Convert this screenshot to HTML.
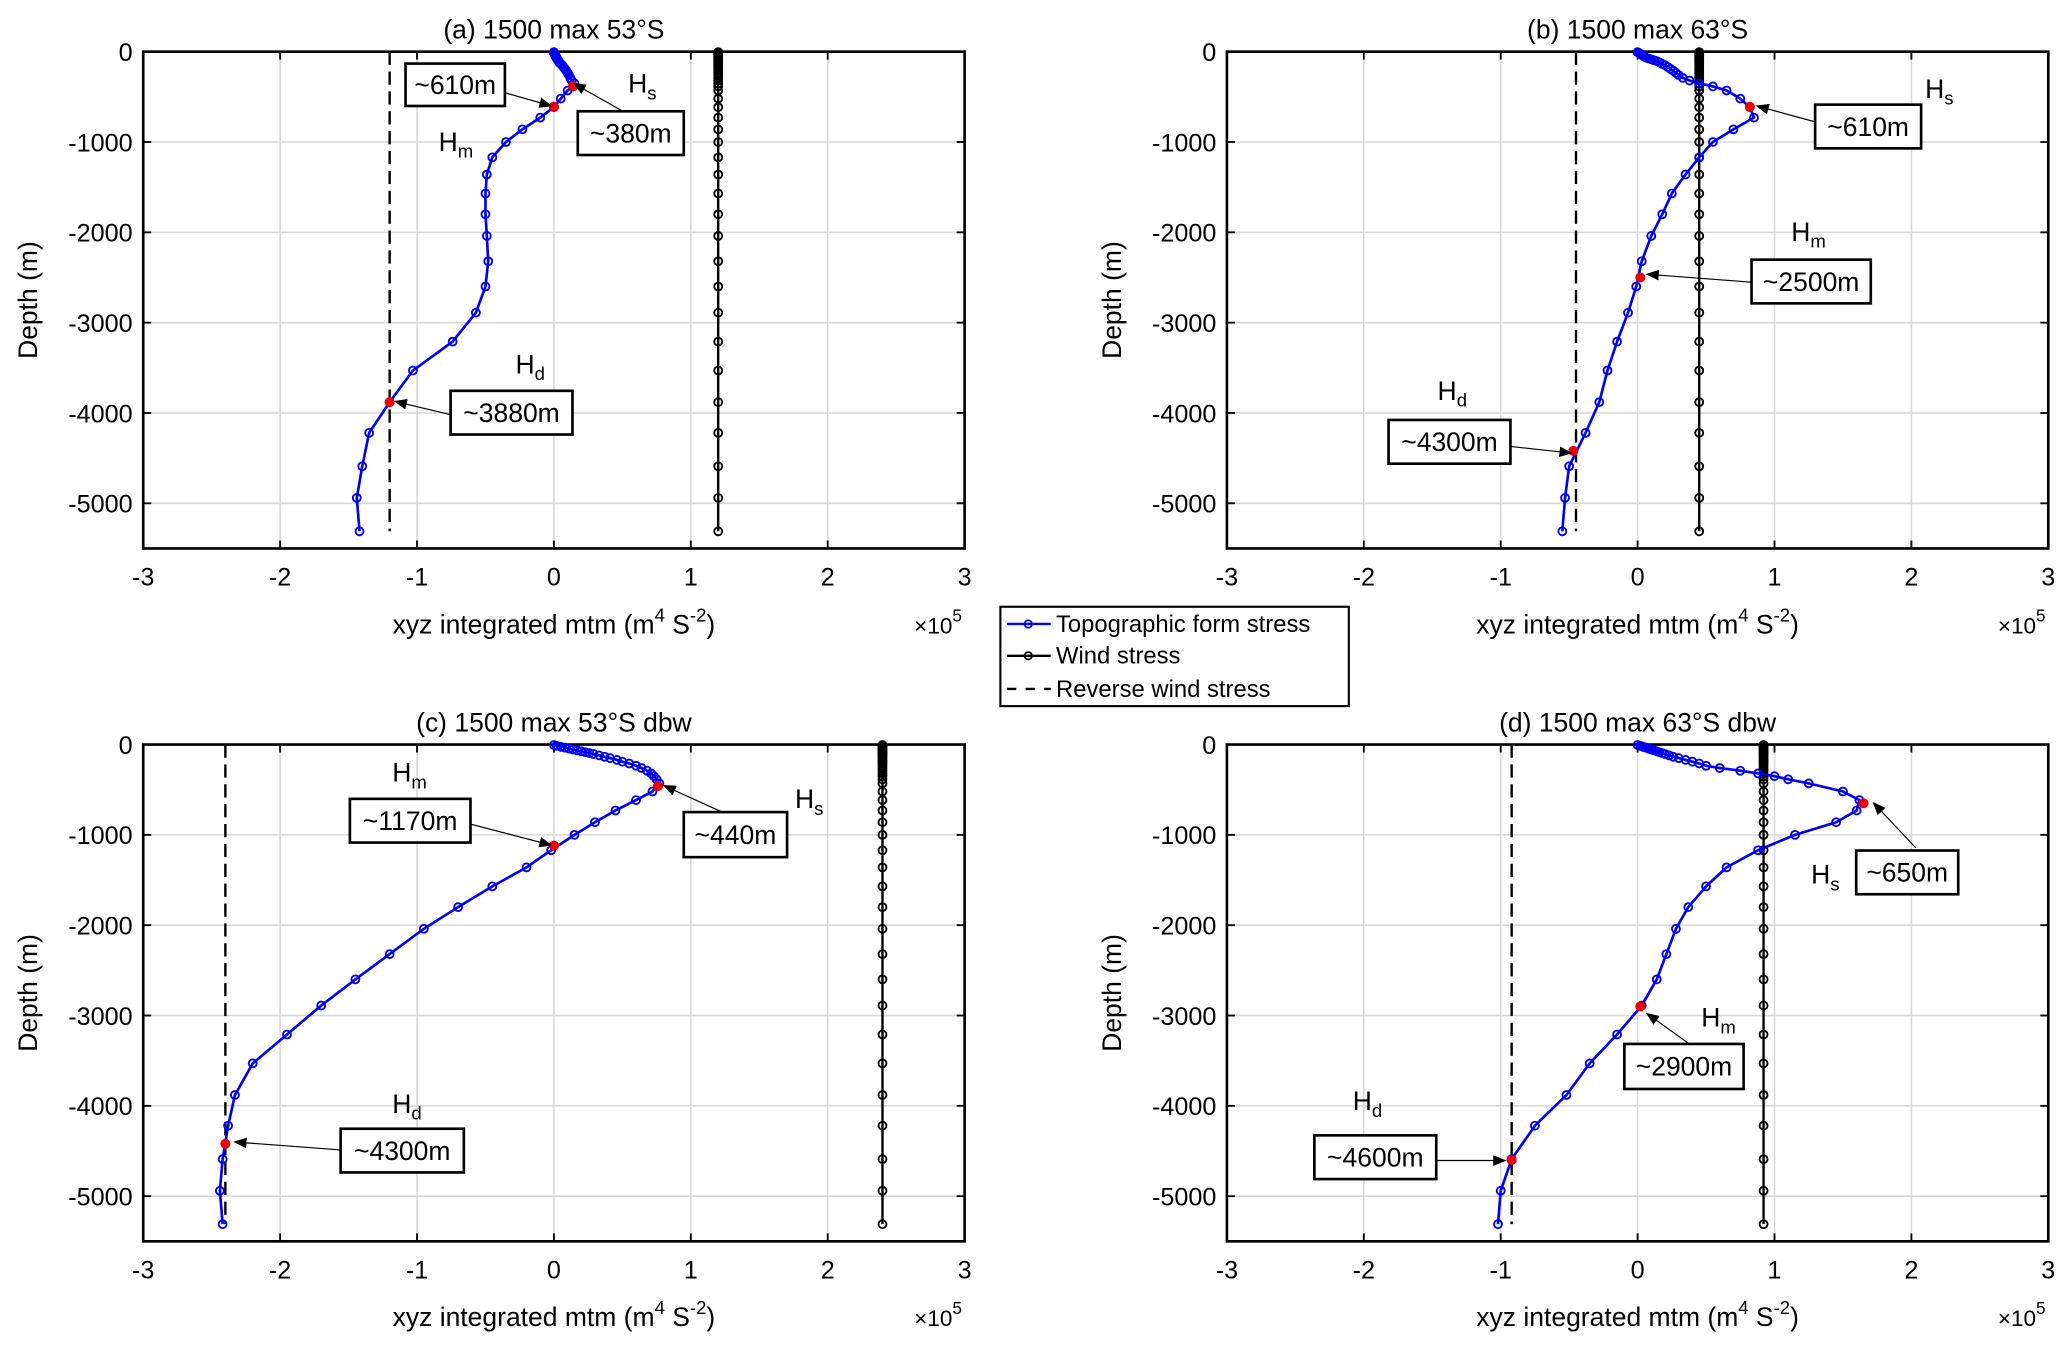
<!DOCTYPE html>
<html><head><meta charset="utf-8"><style>
html,body{margin:0;padding:0;background:#fff;}
svg{display:block;font-family:"Liberation Sans",Arial,sans-serif;}
</style></head><body>
<svg id="fig" width="2067" height="1346" viewBox="0 0 1560 1016" xmlns="http://www.w3.org/2000/svg"></svg>
<script>
// Shared depth levels (m, positive down)
const depths = [5,15,25,35,45,55,65,75,85,95,105,120,135,150,170,190,210,235,260,290,320,350,385,430,520,615,730,860,1000,1170,1360,1570,1800,2040,2320,2600,2890,3210,3530,3880,4220,4590,4940,5310];
const xTicks = [-3,-2,-1,0,1,2,3];
const yTicks = [0,-1000,-2000,-3000,-4000,-5000];
const titles = ["(a) 1500 max 53°S","(b) 1500 max 63°S","(c) 1500 max 53°S dbw","(d) 1500 max 63°S dbw"];
const formA = [0,0,0.005,0.01,0.01,0.015,0.02,0.02,0.025,0.03,0.035,0.04,0.05,0.06,0.07,0.08,0.09,0.1,0.11,0.12,0.13,0.15,0.14,0.1,0.05,0,-0.1,-0.23,-0.35,-0.45,-0.49,-0.5,-0.5,-0.49,-0.48,-0.5,-0.57,-0.74,-1.03,-1.2,-1.35,-1.4,-1.44,-1.42];
const formB = [0,0.01,0.02,0.03,0.04,0.05,0.06,0.08,0.1,0.12,0.14,0.16,0.18,0.2,0.22,0.24,0.26,0.28,0.3,0.33,0.38,0.45,0.55,0.65,0.75,0.82,0.85,0.7,0.55,0.45,0.35,0.25,0.18,0.1,0.03,-0.01,-0.07,-0.15,-0.22,-0.28,-0.38,-0.5,-0.53,-0.55];
const formC = [0,0.02,0.05,0.08,0.11,0.14,0.17,0.2,0.23,0.26,0.29,0.33,0.37,0.41,0.46,0.5,0.55,0.6,0.64,0.68,0.71,0.73,0.75,0.77,0.72,0.6,0.45,0.3,0.15,-0.02,-0.2,-0.45,-0.7,-0.95,-1.2,-1.45,-1.7,-1.95,-2.2,-2.33,-2.38,-2.42,-2.44,-2.42];
const formD = [0,0.02,0.04,0.06,0.08,0.1,0.12,0.14,0.16,0.18,0.2,0.23,0.26,0.3,0.35,0.4,0.45,0.5,0.6,0.75,0.88,1.0,1.1,1.25,1.5,1.62,1.6,1.45,1.15,0.88,0.65,0.5,0.37,0.28,0.21,0.14,0.03,-0.15,-0.35,-0.52,-0.75,-0.92,-1.0,-1.02];
const windVals = [1.2,0.45,2.4,0.92];
const reverseVals = [-1.2,-0.45,-2.4,-0.92];
const redX = [[0.14,0,-1.2],[0.82,0.02,-0.47],[0.76,0,-2.4],[1.65,0.02,-0.92]];
const redD = [[380,610,3880],[610,2500,4420],[460,1120,4420],[650,2900,4600]];
const forms = [formA,formB,formC,formD];

const NS="http://www.w3.org/2000/svg";
const svg=document.getElementById('fig');
function mk(tag,attrs,parent){const e=document.createElementNS(NS,tag);for(const k in attrs)e.setAttribute(k,attrs[k]);(parent||svg).appendChild(e);return e;}
const panels=[{l:108,t:39},{l:926,t:39},{l:108,t:562},{l:926,t:562}];
const PW=620,PH=375;

panels.forEach((p,i)=>{
  const g=mk('g',{});
  
  
  const sx=v=>p.l+(v+3)/6*PW;
  const sy=d=>p.t+d/5500*PH;
  xTicks.forEach(v=>{const ln=mk('line',{x1:sx(v),x2:sx(v),y1:p.t,y2:p.t+PH,stroke:'#d8d8d8','stroke-width':1.2},g);
    
    const tx=mk('text',{x:sx(v),y:p.t+PH+28,'text-anchor':'middle','font-size':19},g);tx.textContent=v;
    
    mk('line',{x1:sx(v),x2:sx(v),y1:p.t+PH,y2:p.t+PH-6,stroke:'#000','stroke-width':1.4},g);mk('line',{x1:sx(v),x2:sx(v),y1:p.t,y2:p.t+6,stroke:'#000','stroke-width':1.4},g);});
  yTicks.forEach(v=>{const y=sy(-v);const ln=mk('line',{x1:p.l,x2:p.l+PW,y1:y,y2:y,stroke:'#d8d8d8','stroke-width':1.2},g);
    
    const tx=mk('text',{x:p.l-8,y:y+7,'text-anchor':'end','font-size':19},g);tx.textContent=v;
    
    mk('line',{x1:p.l,x2:p.l+6,y1:y,y2:y,stroke:'#000','stroke-width':1.4},g);mk('line',{x1:p.l+PW,x2:p.l+PW-6,y1:y,y2:y,stroke:'#000','stroke-width':1.4},g);});
  const fr=mk('rect',{x:p.l,y:p.t,width:PW,height:PH,fill:'none',stroke:'#000','stroke-width':2},g);
  
  const ti=mk('text',{x:p.l+PW/2,y:p.t-10,'text-anchor':'middle','font-size':20},g);ti.textContent=titles[i];
  
  const xl=mk('text',{x:p.l+PW/2,y:p.t+PH+64,'text-anchor':'middle','font-size':20},g);
  xl.innerHTML='xyz integrated mtm (m<tspan dy="-9" font-size="14">4</tspan><tspan dy="9"> S</tspan><tspan dy="-9" font-size="14">-2</tspan><tspan dy="9">)</tspan>';
  
  const ex=mk('text',{x:p.l+PW-2,y:p.t+PH+64,'text-anchor':'end','font-size':17},g);
  ex.innerHTML='×10<tspan dy="-9" font-size="13">5</tspan>';
  
  const yl=mk('text',{x:0,y:0,'text-anchor':'middle','font-size':20,transform:`translate(${p.l-80},${p.t+PH/2}) rotate(-90)`},g);yl.textContent='Depth (m)';
  
  const rv=mk('line',{x1:sx(reverseVals[i]),x2:sx(reverseVals[i]),y1:sy(0),y2:sy(5310),stroke:'#000','stroke-width':1.8,'stroke-dasharray':'10,5'},g);
  
  const wl=mk('line',{x1:sx(windVals[i]),x2:sx(windVals[i]),y1:sy(depths[0]),y2:sy(depths[depths.length-1]),stroke:'#000','stroke-width':1.8},g);
  
  depths.forEach(d=>{const c=mk('circle',{cx:sx(windVals[i]),cy:sy(d),r:3,fill:'none',stroke:'#000','stroke-width':1.4},g);
    });
  const f=forms[i];
  const pl=mk('polyline',{points:f.map((v,k)=>sx(v)+','+sy(depths[k])).join(' '),fill:'none',stroke:'#0000ee','stroke-width':2},g);
  
  f.forEach((v,k)=>{const c=mk('circle',{cx:sx(v),cy:sy(depths[k]),r:3,fill:'none',stroke:'#0000ee','stroke-width':1.4},g);
    });
  redX[i].forEach((v,k)=>{const c=mk('circle',{cx:sx(v),cy:sy(redD[i][k]),r:3.8,fill:'#ee0000'},g);
    });
});

const boxes=[["~610m",306,48,381,80,381,70,416,80],["~380m",436,84,516,117,470,84,433,63],["~3880m",340,295,432,328,340,313,298,303],
["~610m",1370,79,1450,112,1370,92,1326,80],["~2500m",1322,196,1412,229,1322,213,1243,207],["~4300m",1048,317,1140,350,1140,337,1186,342],
["~1170m",264,603,355,636,355,622,416,638],["~440m",516,613,594,647,545,613,501,593],["~4300m",257,852,350,885,257,868,177,862],
["~650m",1401,642,1478,675,1446,640,1414,606],["~2900m",1226,788,1316,822,1275,788,1243,765],["~4600m",992,857,1084,890,1084,876,1136,876]];
const defs=mk('defs',{});
const mkr=mk('marker',{id:'ah',markerWidth:10,markerHeight:8,refX:9,refY:4,orient:'auto',markerUnits:'userSpaceOnUse'},defs);
mk('path',{d:'M0,0 L10,4 L0,8 Z',fill:'#000'},mkr);
boxes.forEach(b=>{
  const r=mk('rect',{x:b[1],y:b[2],width:b[3]-b[1],height:b[4]-b[2],fill:'#fff',stroke:'#000','stroke-width':2});
  
  const t=mk('text',{x:(b[1]+b[3])/2,y:(b[2]+b[4])/2+7,'text-anchor':'middle','font-size':20});t.textContent=b[0];
  
  const a=mk('line',{x1:b[5],y1:b[6],x2:b[7],y2:b[8],stroke:'#000','stroke-width':0.9,'marker-end':'url(#ah)'});
  
});
const hl=[["s",474,70],["m",331,114],["d",389,282],["s",1453,74],["m",1352,182],["d",1085,302],["m",296,590],["s",600,610],["d",296,840],["s",1367,667],["m",1284,775],["d",1021,838]];
hl.forEach(h=>{const t=mk('text',{x:h[1],y:h[2],'font-size':20});t.innerHTML='H<tspan dy="5" font-size="14">'+h[0]+'</tspan>';
  });
const lg=mk('g',{});

mk('rect',{x:755,y:458,width:263,height:75,fill:'#fff',stroke:'#000','stroke-width':1.6},lg);
const le=[["Topographic form stress","#0000ee",'',471],["Wind stress","#000",'',495],["Reverse wind stress","#000",'7,7',520]];
le.forEach((e,k)=>{const gg=mk('g',{},lg);
  
  mk('line',{x1:760,x2:793,y1:e[3],y2:e[3],stroke:e[1],'stroke-width':1.8,'stroke-dasharray':e[2]},gg);
  if(k<2)mk('circle',{cx:776,cy:e[3],r:2.8,fill:'none',stroke:e[1],'stroke-width':1.3},gg);
  const t=mk('text',{x:797,y:e[3]+6,'font-size':18},gg);t.textContent=e[0];});
</script>
</body></html>
